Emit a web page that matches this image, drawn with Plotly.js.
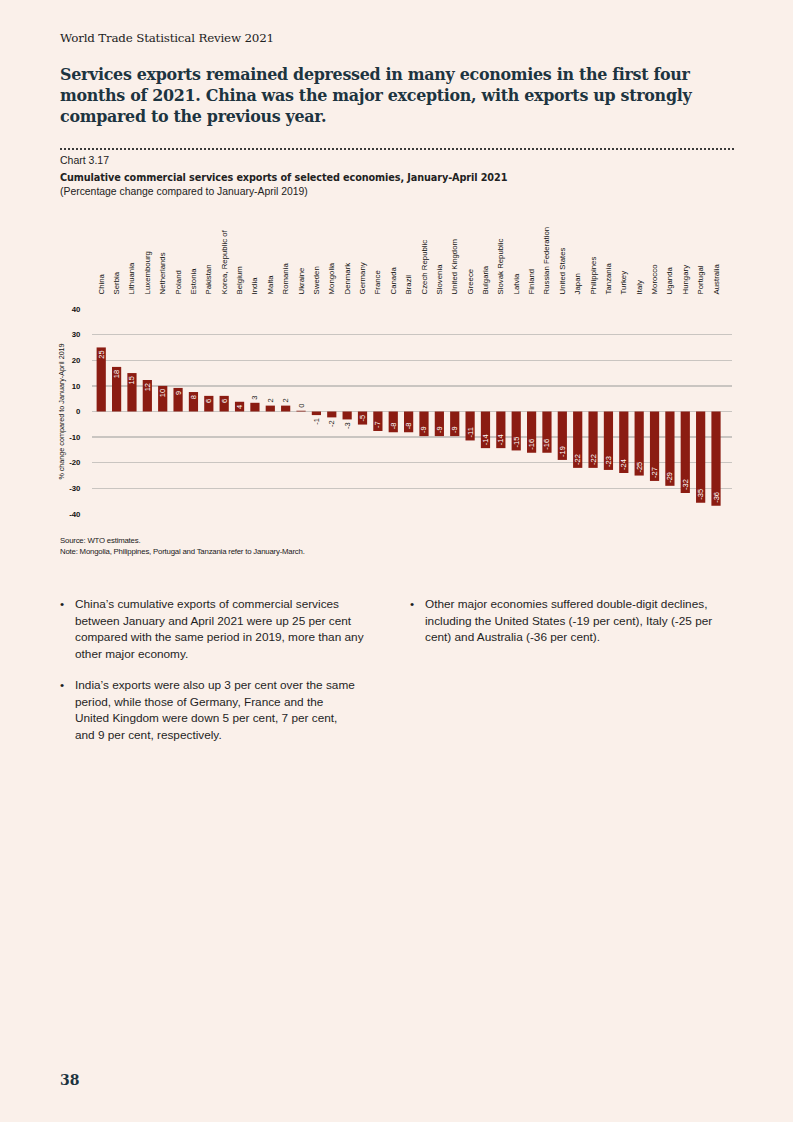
<!DOCTYPE html>
<html>
<head>
<meta charset="utf-8">
<script src="https://cdn.plot.ly/plotly-3.0.1.min.js"></script>
<style>
  html, body { margin:0; padding:0; }
  body { width:793px; height:1122px; background:#faf0ea; position:relative; overflow:hidden; font-family:"Liberation Sans", Arial, sans-serif; color:#1a1a1a; }
  .abs { position:absolute; }
  #hdr { left:60px; top:31px; font-family:"DejaVu Serif", serif; font-size:11.9px; color:#222; letter-spacing:-0.2px; }
  #headline { left:60px; top:64px; width:700px; font-family:"DejaVu Serif", serif; font-weight:bold; font-size:15.9px; line-height:21px; color:#1d3440; letter-spacing:-0.3px; }
  #dots { left:60px; top:148px; width:674px; height:0; border-top:2.5px dotted #3a3a3a; }
  #chartno { left:60px; top:154px; font-size:10.5px; color:#222; }
  #ctitle { left:60px; top:172px; font-family:"DejaVu Sans", sans-serif; font-weight:bold; font-size:9.7px; color:#222; letter-spacing:-0.1px; }
  #csub { left:60px; top:186px; font-size:10.4px; color:#222; }
  #src { left:60px; top:535px; font-size:7.8px; color:#1a1a1a; line-height:11px; letter-spacing:-0.2px; }
  .bul { font-size:11.8px; line-height:16.5px; color:#1f1f1f; }
  .bul .dot { position:absolute; left:0; }
  .bul .txt { position:absolute; left:15px; white-space:nowrap; }
  #pg { left:60px; top:1072px; font-family:"DejaVu Serif", serif; font-weight:bold; font-size:14px; color:#1d3440; }
  #chart { left:0; top:200px; width:793px; height:330px; }
</style>
</head>
<body>
<div id="hdr" class="abs">World Trade Statistical Review 2021</div>
<div id="headline" class="abs">Services exports remained depressed in many economies in the first four<br>months of 2021. China was the major exception, with exports up strongly<br>compared to the previous year.</div>
<div id="dots" class="abs"></div>
<div id="chartno" class="abs">Chart 3.17</div>
<div id="ctitle" class="abs">Cumulative commercial services exports of selected economies, January-April 2021</div>
<div id="csub" class="abs">(Percentage change compared to January-April 2019)</div>
<div id="chart" class="abs"></div>
<div id="src" class="abs">Source: WTO estimates.<br>Note: Mongolia, Philippines, Portugal and Tanzania refer to January-March.</div>

<div class="abs bul" style="left:60px; top:596px; width:320px;">
  <span class="dot">•</span>
  <div class="txt">China’s cumulative exports of commercial services<br>between January and April 2021 were up 25 per cent<br>compared with the same period in 2019, more than any<br>other major economy.</div>
</div>
<div class="abs bul" style="left:60px; top:677px; width:320px;">
  <span class="dot">•</span>
  <div class="txt">India’s exports were also up 3 per cent over the same<br>period, while those of Germany, France and the<br>United Kingdom were down 5 per cent, 7 per cent,<br>and 9 per cent, respectively.</div>
</div>
<div class="abs bul" style="left:410px; top:596px; width:330px;">
  <span class="dot">•</span>
  <div class="txt">Other major economies suffered double-digit declines,<br>including the United States (-19 per cent), Italy (-25 per<br>cent) and Australia (-36 per cent).</div>
</div>
<div id="pg" class="abs">38</div>

<script>
const economies = ["China","Serbia","Lithuania","Luxembourg","Netherlands","Poland","Estonia","Pakistan","Korea, Republic of","Belgium","India","Malta","Romania","Ukraine","Sweden","Mongolia","Denmark","Germany","France","Canada","Brazil","Czech Republic","Slovenia","United Kingdom","Greece","Bulgaria","Slovak Republic","Latvia","Finland","Russian Federation","United States","Japan","Philippines","Tanzania","Turkey","Italy","Morocco","Uganda","Hungary","Portugal","Australia"];
const changePct = [25, 17.4, 15, 12.3, 10, 9.2, 7.6, 6.1, 6.1, 3.8, 3.4, 2.3, 2.3, 0.3, -1.4, -2.3, -3.1, -5.1, -7.6, -8.1, -8.1, -9.6, -9.6, -9.6, -11.3, -14.3, -14.3, -15.2, -16.1, -16.1, -18.9, -22, -22, -22.8, -24, -25, -27.1, -29, -31.8, -35.6, -36.8];
const valueLabels = ["25","18","15","12","10","9","8","6","6","4","3","2","2","0","-1","-2","-3","-5","-7","-8","-8","-9","-9","-9","-11","-14","-14","-15","-16","-16","-19","-22","-22","-23","-24","-25","-27","-29","-32","-35","-36"];
const yTicks = [-40, -30, -20, -10, 0, 10, 20, 30, 40];

const textPos = changePct.map(v => Math.abs(v) >= 3.7 ? "inside" : "outside");

const trace = {
  type: "bar",
  x: economies,
  y: changePct,
  text: valueLabels,
  textposition: textPos,
  insidetextanchor: "end",
  textangle: -90,
  constraintext: "none",
  cliponaxis: false,
  insidetextfont: { family: "Liberation Sans, Arial, sans-serif", size: 7.5, color: "#ffffff" },
  outsidetextfont: { family: "Liberation Sans, Arial, sans-serif", size: 7.5, color: "#222222" },
  marker: { color: "#8b1c12", line: { width: 0 } },
  width: 0.6,
  hoverinfo: "skip"
};

const layout = {
  width: 793,
  height: 330,
  margin: { l: 92, r: 61, t: 109, b: 16 },
  paper_bgcolor: "rgba(0,0,0,0)",
  plot_bgcolor: "rgba(0,0,0,0)",
  showlegend: false,
  font: { family: "Liberation Sans, Arial, sans-serif", color: "#1a1a1a" },
  xaxis: {
    type: "category",
    side: "top",
    range: [-0.6, 41.04],
    tickangle: -90,
    ticks: "outside",
    ticklen: 12,
    tickcolor: "rgba(0,0,0,0)",
    tickfont: { size: 7.8, color: "#111" },
    showgrid: false,
    showline: false,
    zeroline: false,
    fixedrange: true
  },
  yaxis: {
    range: [-40, 40],
    tickvals: yTicks,
    ticktext: yTicks.map(String),
    ticks: "outside",
    ticklen: 9,
    tickcolor: "rgba(0,0,0,0)",
    tickfont: { size: 7.8, color: "#111", family: "Liberation Sans, Arial, sans-serif", weight: "bold" },
    showgrid: true,
    gridcolor: "#c9c5c1",
    gridwidth: 1.3,
    zeroline: true,
    zerolinecolor: "#c9c5c1",
    zerolinewidth: 1.3,
    showline: false,
    title: { text: "% change compared to January-April 2019", font: { size: 7.2, color: "#111" }, standoff: 3 },
    fixedrange: true
  }
};

Plotly.newPlot("chart", [trace], layout, { staticPlot: true, displayModeBar: false });
</script>
</body>
</html>
